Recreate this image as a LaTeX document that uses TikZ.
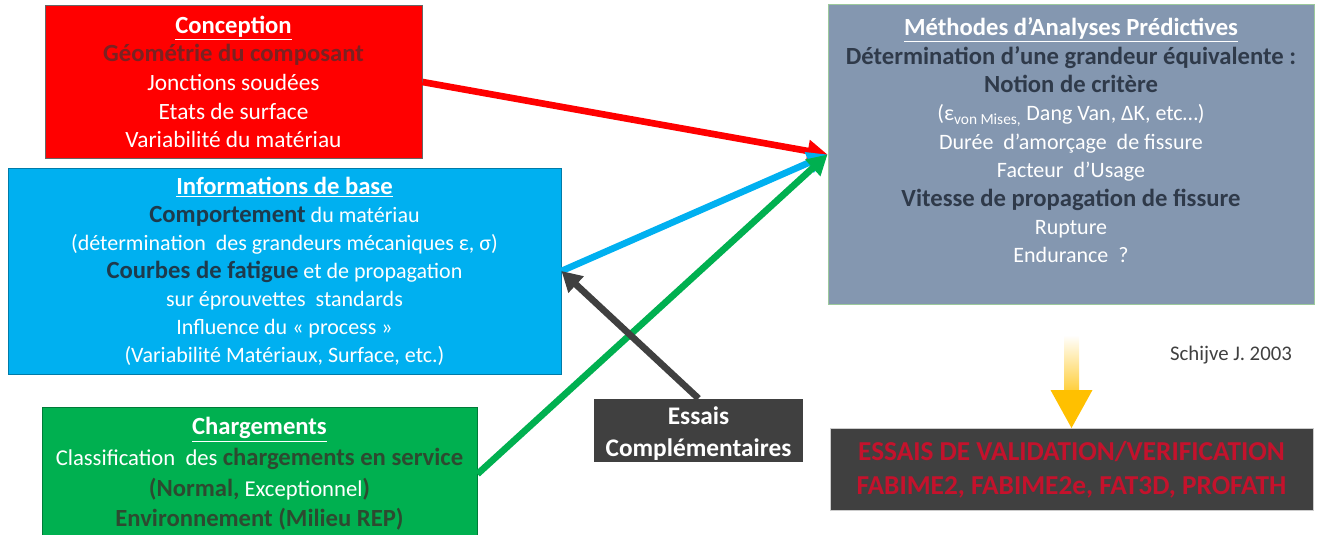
\documentclass[tikz,border=0pt]{standalone}
\usepackage{fontspec}
\setmainfont{Carlito}
\usetikzlibrary{calc,positioning,arrows.meta}
\definecolor{redC}{HTML}{FF0000}
\definecolor{redD}{HTML}{7A2222}
\definecolor{blueC}{HTML}{00B0F0}
\definecolor{blueD}{HTML}{1E3A4C}
\definecolor{greenC}{HTML}{00B050}
\definecolor{greenD}{HTML}{2D4A30}
\definecolor{slateC}{HTML}{8497B0}
\definecolor{slateD}{HTML}{2F3A4A}
\definecolor{darkC}{HTML}{404040}
\definecolor{valC}{HTML}{C4122C}
\definecolor{yellowC}{HTML}{FFC000}
\newcommand{\ttl}[1]{{\fontsize{18.5}{21}\selectfont\bfseries\underline{#1}}}
\newcommand{\bd}[1]{{\fontsize{18.5}{21}\selectfont\bfseries #1}}

\begin{document}
\begin{tikzpicture}[x=0.75pt,y=-0.75pt,
  box/.style={rectangle,align=center,inner sep=0pt,line width=0.75pt,text=white,
    font=\fontsize{16.5}{21}\selectfont},
  link/.style={line width=5pt,-{Triangle[length=15pt,width=16pt]}}]
  \useasboundingbox (0,0) rectangle (1328,535);

  % input boxes
  \node[box,fill=redC,draw=gray!80!black,minimum width=282.75pt,minimum height=114pt,
    font=\fontsize{17.5}{21.5}\selectfont]
    (concep) at (233.5,82) {\ttl{Conception}\\
      \textcolor{redD}{\bd{Géométrie du composant}}\\
      Jonctions soudées\\
      Etats de surface\\
      Variabilité du matériau};
  \node[box,fill=blueC,draw=blueC!70!black,minimum width=414.75pt,minimum height=154.5pt]
    (infos) at (284.5,271) {\ttl{Informations de base}\\
      \textcolor{blueD}{\bd{Comportement}} du matériau\\
      (détermination\ \ des grandeurs mécaniques ε, σ)\\
      \textcolor{blueD}{\bd{Courbes de fatigue}} et de propagation\\
      sur éprouvettes\ \ standards\\
      Influence du « process »\\
      (Variabilité Matériaux, Surface, etc.)};
  \node[box,fill=greenC,draw=greenC!70!black,minimum width=326.25pt,minimum height=100.5pt,
    font=\fontsize{17}{23}\selectfont]
    (charg) at (259.5,474) {\ttl{Chargements}\\
      Classification\ \ des \textcolor{greenD}{\bd{chargements en service}}\\
      \textcolor{greenD}{\bd{(Normal,}} Exceptionnel\textcolor{greenD}{\bd{)}}\\
      \textcolor{greenD}{\bd{Environnement (Milieu REP)}}};

  % predictive methods
  \node[box,fill=slateC,draw=green!30!gray!60,minimum width=364.5pt,minimum height=224.25pt]
    (meth) at (1071,154.5) {};
  \node[box,below=9.5pt of meth.north,font=\fontsize{16.5}{21.3}\selectfont]
    (methtxt) {\ttl{Méthodes d’Analyses Prédictives}\\
      \textcolor{slateD}{\bd{Détermination d’une grandeur équivalente :}}\\
      \textcolor{slateD}{\bd{Notion de critère}}\\
      (ε\textsubscript{von Mises,} Dang Van, ΔK, etc…)\\
      Durée\ \ d’amorçage\ \ de fissure\\
      Facteur\ \ d’Usage\\
      \textcolor{slateD}{\bd{Vitesse de propagation de fissure}}\\
      Rupture\\
      Endurance\ \ ?};

  % tests
  \node[box,fill=darkC,minimum width=156.75pt,minimum height=47.25pt] (essais) at (698.5,430.5) {};
  \node[box,font=\fontsize{19}{24}\selectfont\bfseries] (esstxt)
    at ($(essais.center)+(0,3)$) {Essais\\Complémentaires};
  \node[box,fill=darkC,draw=gray!40,minimum width=362.25pt,minimum height=61.5pt,
    text=valC,font=\fontsize{20.5}{25.5}\selectfont\bfseries]
    (valid) at (1071.5,469.5) {ESSAIS DE VALIDATION/VERIFICATION\\
      FABIME2, FABIME2e, FAT3D, PROFATH};
  \node[text=darkC,font=\fontsize{15.6}{19}\selectfont] (ref) at (1231,355) {Schijve J. 2003};

  % arrows
  \draw[link,redC] (concep.east) -- (meth.west);
  \draw[link,blueC] (infos.east) -- (meth.west);
  \draw[link,greenC] (charg.east) -- (meth.west);
  \draw[link,darkC] (essais.north) -- (infos.east);

  % yellow block arrow
  \shade[top color=white,bottom color=yellowC!75]
    ($(valid.north)+(-7.5,-93)$) rectangle ($(valid.north)+(7.5,-38)$);
  \fill[yellowC] ($(valid.north)+(-21,-38)$) -- ($(valid.north)+(21,-38)$)
    -- (valid.north) -- cycle;
\end{tikzpicture}
\end{document}
